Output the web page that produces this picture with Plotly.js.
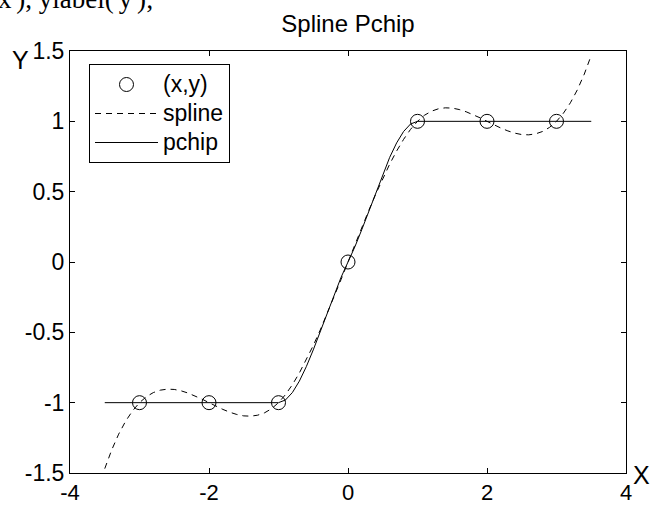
<!DOCTYPE html>
<html>
<head>
<meta charset="utf-8">
<script src="https://cdn.plot.ly/plotly-3.0.1.min.js"></script>
<style>
html,body{margin:0;padding:0;background:#fff;}
#chart{width:654px;height:506px;}
</style>
</head>
<body>
<div id="chart"></div>
<script>
// data points
var dataX = [-3, -2, -1, 0, 1, 2, 3];
var dataY = [-1, -1, -1, 0, 1, 1, 1];

// spline curve
var splineX = [-3.5,-3.4,-3.3,-3.2,-3.1,-3.0,-2.9,-2.8,-2.7,-2.6,-2.5,-2.4,-2.3,-2.2,-2.1,-2.0,
  -1.9,-1.8,-1.7,-1.6,-1.5,-1.4,-1.3,-1.2,-1.1,-1.0,-0.9,-0.8,-0.7,-0.6,-0.5,-0.4,-0.3,-0.2,-0.1,
  0,0.1,0.2,0.3,0.4,0.5,0.6,0.7,0.8,0.9,1.0,1.1,1.2,1.3,1.4,1.5,1.6,1.7,1.8,1.9,2.0,
  2.1,2.2,2.3,2.4,2.5,2.6,2.7,2.8,2.9,3.0,3.1,3.2,3.3,3.4,3.5];
var splineY = [-1.469,-1.336,-1.224,-1.132,-1.058,-1,-0.957,-0.928,-0.911,-0.904,-0.906,-0.916,-0.932,-0.952,-0.975,-1,
  -1.025,-1.048,-1.068,-1.084,-1.094,-1.096,-1.089,-1.072,-1.043,-1,-0.943,-0.872,-0.789,-0.696,-0.594,-0.484,-0.368,-0.248,-0.125,
  0,0.125,0.248,0.368,0.484,0.594,0.696,0.789,0.872,0.943,1,1.043,1.072,1.089,1.096,1.094,1.084,1.068,1.048,1.025,1,
  0.975,0.952,0.932,0.916,0.906,0.904,0.911,0.928,0.957,1,1.058,1.132,1.224,1.336,1.469];

// pchip curve
var pchipX = [-3.5,-3,-2,-1,-0.9,-0.8,-0.7,-0.6,-0.5,-0.4,-0.3,-0.2,-0.1,0,0.1,0.2,0.3,0.4,0.5,0.6,0.7,0.8,0.9,1,2,3,3.5];
var pchipY = [-1,-1,-1,-1,-0.981,-0.928,-0.847,-0.744,-0.625,-0.496,-0.363,-0.232,-0.109,0,0.109,0.232,0.363,0.496,0.625,0.744,0.847,0.928,0.981,1,1,1,1];

// ticks
var xTickVals = [-4, -2, 0, 2, 4];
var xTickText = ["-4", "-2", "0", "2", "4"];
var yTickVals = [-1.5, -1, -0.5, 0, 0.5, 1, 1.5];
var yTickText = ["-1.5", "-1", "-0.5", "0", "0.5", "1", "1.5"];

// legend names
var seriesNames = ["(x,y)", "spline", "pchip"];

var FONT = "Liberation Sans, Arial, sans-serif";
function big(s){ return '<span style="font-size:23px">' + s + '</span>'; }

var traces = [
  {x: dataX, y: dataY, mode: "markers", name: big(seriesNames[0]),
   marker: {symbol: "circle-open", size: 14, color: "#000", line: {width: 1, color: "#000"}}},
  {x: splineX, y: splineY, mode: "lines", name: big(seriesNames[1]),
   line: {color: "#000", width: 1, dash: "6px,5px"}},
  {x: pchipX, y: pchipY, mode: "lines", name: big(seriesNames[2]),
   line: {color: "#000", width: 1}}
];

var L = 70, R = 28, T = 51, B = 33;
var PW = 654 - L - R, PH = 506 - T - B;
function px(x){ return (x - L) / PW; }
function py(y){ return (506 - B - y) / PH; }

var layout = {
  width: 654, height: 506,
  margin: {l: L, r: R, t: T, b: B, pad: 0},
  paper_bgcolor: "#fff", plot_bgcolor: "#fff",
  font: {family: FONT, color: "#000", size: 23},
  title: {text: "Spline Pchip", font: {family: FONT, size: 24, color: "#000"},
          x: 0.5, xref: "paper", xanchor: "center", y: 1 - 24/506, yref: "container", yanchor: "middle"},
  showlegend: true,
  legend: {x: px(89), y: py(64), xanchor: "left", yanchor: "top",
           bgcolor: "#fff", bordercolor: "#000", borderwidth: 1,
           font: {family: FONT, size: 20, color: "#000"}, itemwidth: 63, tracegroupgap: 0},
  xaxis: {range: [-4, 4], tickvals: xTickVals, ticktext: xTickText,
          ticks: "inside", ticklen: 5, tickcolor: "#000", tickwidth: 1,
          showline: true, linecolor: "#000", linewidth: 1, mirror: "ticks",
          showgrid: false, zeroline: false, fixedrange: true,
          tickfont: {family: FONT, size: 22, color: "#000"}},
  yaxis: {range: [-1.5, 1.5], tickvals: yTickVals, ticktext: yTickText,
          ticks: "inside", ticklen: 5, tickcolor: "#000", tickwidth: 1,
          showline: true, linecolor: "#000", linewidth: 1, mirror: "ticks",
          showgrid: false, zeroline: false, fixedrange: true,
          tickfont: {family: FONT, size: 23, color: "#000"}},
  annotations: [
    {text: "Y", xref: "paper", yref: "paper", x: px(20), y: py(60), xanchor: "center", yanchor: "middle",
     showarrow: false, font: {family: FONT, size: 25, color: "#000"}},
    {text: "X", xref: "paper", yref: "paper", x: px(641), y: py(475), xanchor: "center", yanchor: "middle",
     showarrow: false, font: {family: FONT, size: 25, color: "#000"}},
    {text: "x'), ylabel('y');", xref: "paper", yref: "paper", x: px(-4), y: py(-1), xanchor: "left", yanchor: "middle",
     showarrow: false, font: {family: "Liberation Serif, Times New Roman, serif", size: 27, color: "#000"}}
  ]
};

Plotly.newPlot("chart", traces, layout, {displayModeBar: false, staticPlot: true});
</script>
</body>
</html>
